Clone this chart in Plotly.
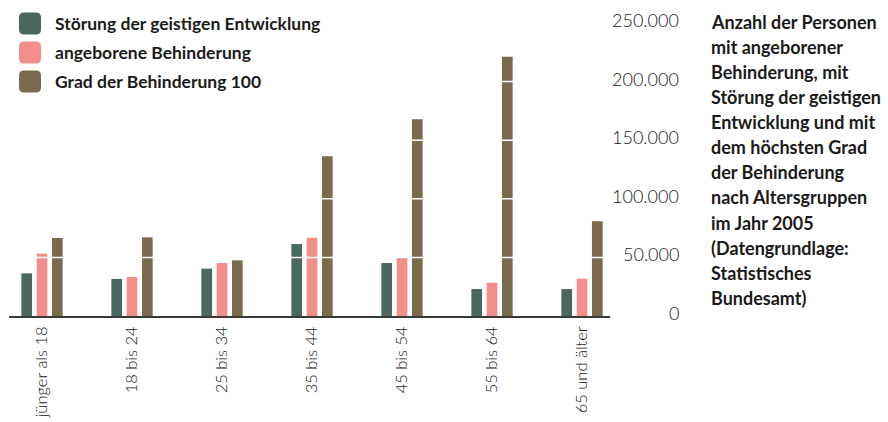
import plotly.graph_objects as go

# age groups and counts
age_groups = ["jünger als 18", "18 bis 24", "25 bis 34", "35 bis 44", "45 bis 54", "55 bis 64", "65 und älter"]
geistig = [36400, 31600, 40400, 61400, 45200, 23000, 23000]
angeboren = [53200, 33300, 45200, 66800, 49700, 28400, 31800]
grad_100 = [66600, 67100, 47500, 136300, 167800, 221200, 80800]

series_names = ["Störung der geistigen Entwicklung", "angeborene Behinderung", "Grad der Behinderung 100"]
series_colors = ["#4b6860", "#f28f8b", "#7a6b4d"]

y_ticks = [0, 50000, 100000, 150000, 200000, 250000]
y_tick_labels = ["0", "50.000", "100.000", "150.000", "200.000", "250.000"]

title_lines = [
    "Anzahl der Personen",
    "mit angeborener",
    "Behinderung, mit",
    "Störung der geistigen",
    "Entwicklung und mit",
    "dem höchsten Grad",
    "der Behinderung",
    "nach Altersgruppen",
    "im Jahr 2005",
    "(Datengrundlage:",
    "Statistisches",
    "Bundesamt)",
]

W, H = 888, 422
M_L, M_R, M_T, M_B = 9, 278, 23, 106
PLOT_W = W - M_L - M_R
PLOT_H = H - M_T - M_B

BOLD = "Lato"
LIGHT = "Lato"
TEXT = "#1a1a1a"
AXIS_TEXT = "#151515"


def px_x(px):
    return (px - M_L) / PLOT_W


def px_y(py):
    return (H - M_B - py) / PLOT_H


def rounded_square(x0, y0, size, r):
    # rounded rectangle path in paper coords, given in pixels
    x1, y1 = x0 + size, y0 + size
    pts = [
        f"M {px_x(x0 + r)},{px_y(y0)}",
        f"L {px_x(x1 - r)},{px_y(y0)}",
        f"Q {px_x(x1)},{px_y(y0)} {px_x(x1)},{px_y(y0 + r)}",
        f"L {px_x(x1)},{px_y(y1 - r)}",
        f"Q {px_x(x1)},{px_y(y1)} {px_x(x1 - r)},{px_y(y1)}",
        f"L {px_x(x0 + r)},{px_y(y1)}",
        f"Q {px_x(x0)},{px_y(y1)} {px_x(x0)},{px_y(y1 - r)}",
        f"L {px_x(x0)},{px_y(y0 + r)}",
        f"Q {px_x(x0)},{px_y(y0)} {px_x(x0 + r)},{px_y(y0)}",
        "Z",
    ]
    return " ".join(pts)


fig = go.Figure()
for name, values, color in zip(series_names, [geistig, angeboren, grad_100], series_colors):
    fig.add_trace(
        go.Bar(x=age_groups, y=values, name=name, marker=dict(color=color, line=dict(width=0)), showlegend=False)
    )

# white grid lines drawn over the bars
for t in y_ticks[1:]:
    fig.add_shape(
        type="line", xref="paper", x0=0, x1=1, yref="y", y0=t, y1=t,
        line=dict(color="white", width=1.5), layer="above",
    )

# y tick labels, right aligned on the right of the plot
for t, lab in zip(y_ticks, y_tick_labels):
    fig.add_annotation(
        text=lab, xref="paper", x=px_x(681), xanchor="right", yref="y", y=t, yshift=3,
        showarrow=False, font=dict(family=LIGHT, size=18, color=AXIS_TEXT, weight=300),
    )

# legend: rounded squares + bold labels
for i, (name, color) in enumerate(zip(series_names, series_colors)):
    top = 12.5 + i * 29
    fig.add_shape(type="path", xref="paper", yref="paper", path=rounded_square(19, top, 22, 5),
                  fillcolor=color, line=dict(width=0), layer="above")
    fig.add_annotation(
        text=name, xref="paper", x=px_x(53), xanchor="left", yref="paper", y=px_y(top + 11),
        yanchor="middle", showarrow=False, font=dict(family=BOLD, size=17.5, color=TEXT, weight="bold"),
    )

# description on the right
for i, line in enumerate(title_lines):
    fig.add_annotation(
        text=line, xref="paper", x=px_x(709), xanchor="left", yref="paper", y=px_y(21.7 + i * 25.1),
        yanchor="middle", showarrow=False, font=dict(family=BOLD, size=18, color=TEXT, weight="bold"),
    )

fig.update_layout(
    width=W,
    height=H,
    margin=dict(l=M_L, r=M_R, t=M_T, b=M_B),
    plot_bgcolor="white",
    paper_bgcolor="white",
    barmode="group",
    bargap=0.49,
    bargroupgap=0.3,
    xaxis=dict(
        range=[-0.367, 6.311],
        automargin=False,
        showgrid=False,
        showline=True,
        linecolor="#3a3a3a",
        linewidth=1.5,
        ticks="",
        tickangle=-90,
        ticklabelstandoff=2,
        tickfont=dict(family=LIGHT, size=16.5, color=AXIS_TEXT, weight=300),
    ),
    yaxis=dict(range=[0, 250000], automargin=False, showgrid=False, showticklabels=False, zeroline=False),
)

# drop the default page margin so the figure sits at the window's top-left corner
fig.write_html(
    "out.html",
    config={"displayModeBar": False},
    post_script="document.body.style.margin='0';",
)
